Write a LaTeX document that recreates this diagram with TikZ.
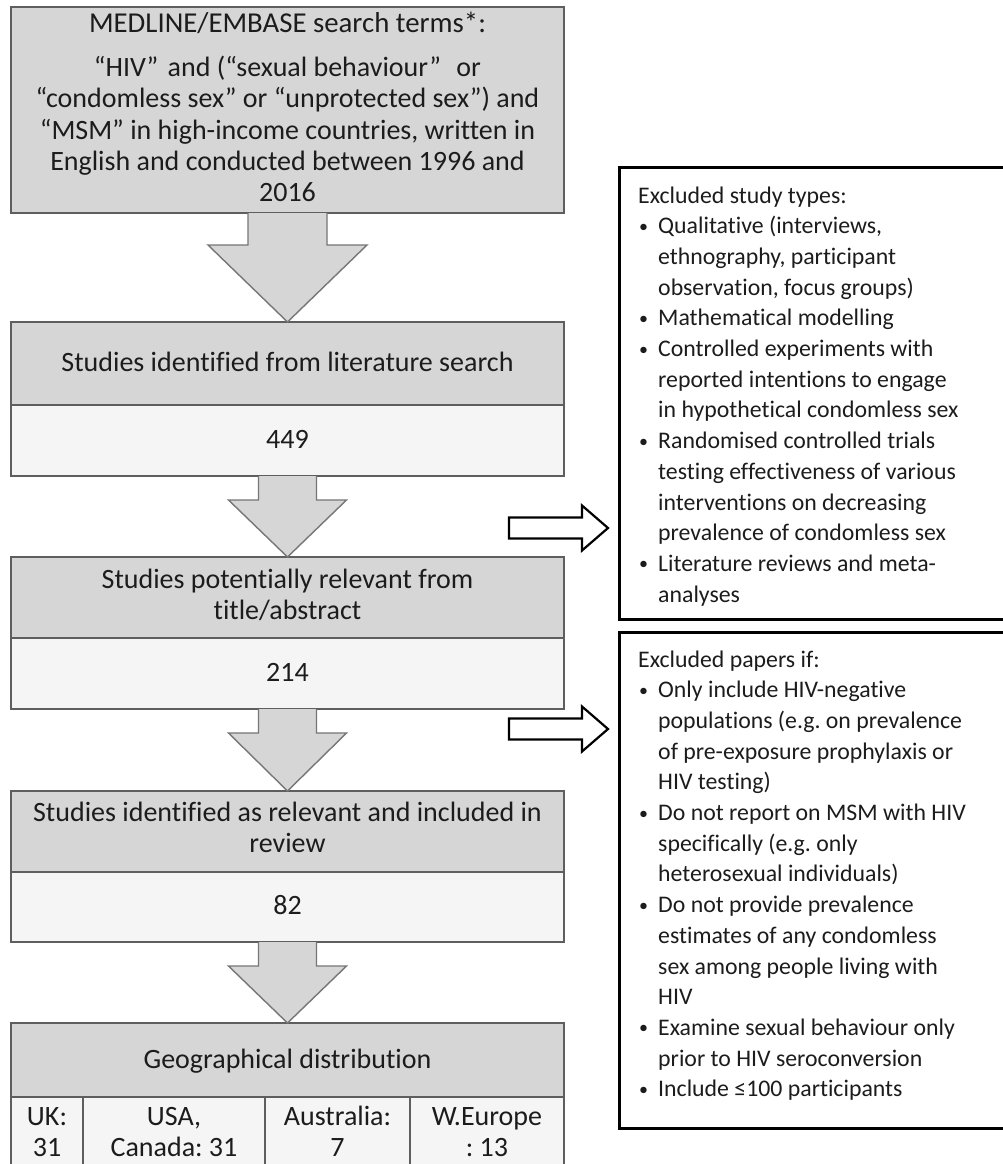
\documentclass[tikz,border=0pt]{standalone}
\usepackage{fontspec}
\setmainfont{Carlito}[Ligatures=NoCommon]
\usetikzlibrary{calc}
\frenchspacing
\definecolor{hdrgray}{HTML}{D6D6D6}
\definecolor{valgray}{HTML}{F5F5F5}
\definecolor{edgegray}{HTML}{5E5E5E}
\definecolor{txt}{HTML}{1C1C1C}
\newcommand\mybul{\makebox[20pt][l]{\hspace{1pt}\raisebox{1.5pt}{\fontsize{18}{18}\selectfont•}}}
\newcommand\myind{\hspace*{20pt}}
\newcommand\flowdown[5]{%
  \filldraw[flow] ($(#1.south)+(-#3,0)$) -- ++(0,#5) -- ++({#3-#4},0) -- (#2.north)
    -- ($(#1.south)+(#4,#5)$) -- ++({#3-#4},0) -- ($(#1.south)+(#3,0)$);}
\tikzset{
  hdr/.style={draw=edgegray, line width=1.6pt, fill=hdrgray, inner sep=0, outer sep=0, minimum width=553pt},
  val/.style={draw=edgegray, line width=1.6pt, fill=valgray, inner sep=0, outer sep=0, minimum width=553pt},
  cellbox/.style={draw=edgegray, line width=1.6pt, fill=valgray, inner sep=0, outer sep=0, minimum height=93pt},
  ltext/.style={inner sep=0, font=\fontsize{28}{31.5}\selectfont, text=txt, anchor=base},
  rtext/.style={inner sep=0, anchor=base west, text=txt, font=\fontsize{23.8}{30.7}\selectfont},
  exbox/.style={draw=black, line width=3pt, fill=white, inner sep=0, outer sep=0},
  flow/.style={draw=edgegray!85, line width=1.4pt, fill=hdrgray, line join=miter},
  hollow/.style={draw=black, line width=2.2pt, fill=white, line join=miter},
}
\begin{document}
\begin{tikzpicture}[x=1pt, y=-1pt]
\useasboundingbox (0,0) rectangle (1003,1164);
\clip (0,0) rectangle (1003,1164);
\fill[white] (0,0) rectangle (1003,1164);

% left column boxes (shapes)
\node[hdr, minimum height=206pt] (top) at (287.5,110) {};
\node[hdr, minimum height=83pt] (b2h) at (287.5,363.5) {};
\node[val, minimum height=71pt] (b2v) at (287.5,440.5) {};
\node[hdr, minimum height=81pt] (b3h) at (287.5,597.5) {};
\node[val, minimum height=71pt] (b3v) at (287.5,673.5) {};
\node[hdr, minimum height=81pt] (b4h) at (287.5,831.5) {};
\node[val, minimum height=70pt] (b4v) at (287.5,907) {};
\node[hdr, minimum height=74pt] (b5h) at (287.5,1060) {};
\node[cellbox, minimum width=72pt] (cuk) at (47,1143.5) {};
\node[cellbox, minimum width=182pt] (cusa) at (174,1143.5) {};
\node[cellbox, minimum width=145pt] (caus) at (337.5,1143.5) {};
\node[cellbox, minimum width=154pt] (cweu) at (487,1143.5) {};

% flow arrows
\flowdown{top}{b2h}{39.5}{79.5}{32}
\flowdown{b2v}{b3h}{29}{59}{24}
\flowdown{b3v}{b4h}{29}{59}{24}
\flowdown{b4v}{b5h}{29}{59}{24}

% left texts
\node[ltext, font=\fontsize{28.8}{31.5}\selectfont] (t1a) at (287.5,33) {MEDLINE/EMBASE search terms*:};
\node[ltext] (t1b) at (287.5,76) {\parbox[t]{553pt}{\centering
  “HIV”\hspace{3pt} and (“sexual behaviour”\hspace{9pt} or\\
  “condomless sex” or “unprotected sex”) and\\
  “MSM” in high-income countries, written in\\
  English and conducted between 1996 and\\
  2016}};
\node[ltext] (t2h) at (287.5,371) {Studies identified from literature search};
\node[ltext] (t2v) at (287.5,448) {449};
\node[ltext] (t3h) at (287.5,588) {\parbox[t]{553pt}{\centering Studies potentially relevant from\\ title/abstract}};
\node[ltext] (t3v) at (287.5,681) {214};
\node[ltext] (t4h) at (287.5,821) {\parbox[t]{553pt}{\centering Studies identified as relevant and included in\\ review}};
\node[ltext] (t4v) at (287.5,914) {82};
\node[ltext] (t5h) at (287.5,1068) {Geographical distribution};
\node[ltext] (tuk) at (47,1125) {\parbox[t]{72pt}{\centering UK:\\ 31}};
\node[ltext] (tusa) at (174,1125) {\parbox[t]{182pt}{\centering USA,\\ Canada: 31}};
\node[ltext] (taus) at (337.5,1125) {\parbox[t]{145pt}{\centering Australia:\\ 7}};
\node[ltext] (tweu) at (487,1125) {\parbox[t]{154pt}{\centering W.Europe\\ : 13}};

% exclusion boxes
\node[exbox, minimum width=393pt, minimum height=452pt, anchor=north west] (exA) at (619,167) {};
\node[exbox, minimum width=393pt, minimum height=496pt, anchor=north west] (exB) at (619,632) {};

\node[rtext] (exAt) at (638,203) {\parbox[t]{380pt}{\raggedright
Excluded study types:\\
\mybul Qualitative (interviews,\\
\myind ethnography, participant\\
\myind observation, focus groups)\\
\mybul Mathematical modelling\\
\mybul Controlled experiments with\\
\myind reported intentions to engage\\
\myind in hypothetical condomless sex\\
\mybul Randomised controlled trials\\
\myind testing effectiveness of various\\
\myind interventions on decreasing\\
\myind prevalence of condomless sex\\
\mybul Literature reviews and meta-\\
\myind analyses}};

\node[rtext] (exBt) at (638,667) {\parbox[t]{380pt}{\raggedright
Excluded papers if:\\
\mybul Only include HIV-negative\\
\myind populations (e.g. on prevalence\\
\myind of pre-exposure prophylaxis or\\
\myind HIV testing)\\
\mybul Do not report on MSM with HIV\\
\myind specifically (e.g. only\\
\myind heterosexual individuals)\\
\mybul Do not provide prevalence\\
\myind estimates of any condomless\\
\myind sex among people living with\\
\myind HIV\\
\mybul Examine sexual behaviour only\\
\myind prior to HIV seroconversion\\
\mybul Include ≤100 participants}};

% hollow arrows to exclusion boxes
\coordinate (tA) at (509,528);
\coordinate (hA) at (608,528);
\coordinate (tB) at (509,729);
\coordinate (hB) at (608,729);
\draw[hollow] ($(tA)+(0,-10.5)$) -- ($(tA)+(73,-10.5)$) -- ($(tA)+(73,-22.5)$) -- (hA)
  -- ($(tA)+(73,22.5)$) -- ($(tA)+(73,10.5)$) -- ($(tA)+(0,10.5)$) -- cycle;
\draw[hollow] ($(tB)+(0,-10.5)$) -- ($(tB)+(73,-10.5)$) -- ($(tB)+(73,-22.5)$) -- (hB)
  -- ($(tB)+(73,22.5)$) -- ($(tB)+(73,10.5)$) -- ($(tB)+(0,10.5)$) -- cycle;
\end{tikzpicture}
\end{document}
